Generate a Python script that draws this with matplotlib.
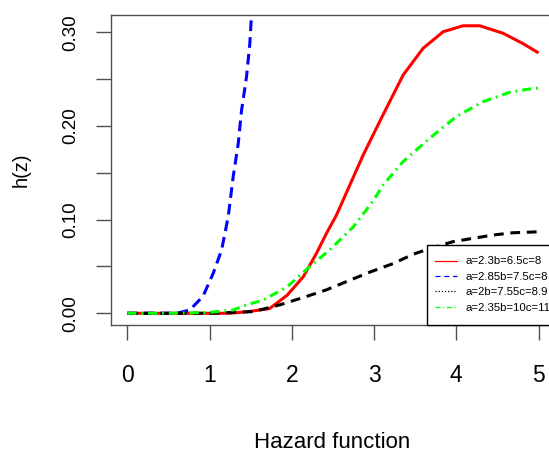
import matplotlib
matplotlib.use("Agg")
import matplotlib.pyplot as plt
from matplotlib.lines import Line2D
from matplotlib.patches import Rectangle

plt.rcParams['font.family'] = ['Liberation Sans', 'DejaVu Sans']

# data
red_x = [0, 0.5, 1.0, 1.25, 1.49, 1.73, 1.94, 2.14, 2.30, 2.42, 2.544, 2.868, 3.11, 3.354, 3.597, 3.84, 4.083, 4.286, 4.569, 4.81, 5.0]
red_y = [0, 0, 0, 0, 0.002, 0.005, 0.019, 0.039, 0.064, 0.085, 0.105, 0.169, 0.212, 0.2544, 0.283, 0.3006, 0.307, 0.307, 0.299, 0.288, 0.278]

blue_x = [0, 0.3, 0.6, 0.76, 0.92, 1.045, 1.147, 1.227, 1.288, 1.349, 1.39, 1.45, 1.49, 1.51, 1.55]
blue_y = [0, 0, 0, 0.0035, 0.018, 0.0427, 0.0676, 0.103, 0.146, 0.181, 0.217, 0.2526, 0.288, 0.318, 0.36]

black_x = [0, 0.5, 1.0, 1.53, 1.855, 2.18, 2.42, 2.67, 2.95, 3.23, 3.475, 3.64, 3.96, 4.20, 4.45, 4.69, 5.0]
black_y = [0, 0, 0, 0.0018, 0.009, 0.018, 0.025, 0.034, 0.044, 0.053, 0.063, 0.068, 0.0765, 0.080, 0.0836, 0.086, 0.087]

green_x = [0, 0.5, 1.0, 1.29, 1.45, 1.65, 1.94, 2.22, 2.46, 2.75, 2.99, 3.11, 3.354, 3.678, 4.0, 4.326, 4.65, 4.893, 5.0]
green_y = [0, 0, 0.001, 0.0035, 0.009, 0.014, 0.028, 0.050, 0.0676, 0.0925, 0.120, 0.137, 0.162, 0.187, 0.210, 0.226, 0.236, 0.2395, 0.2405]

labels = ["a=2.3b=6.5c=8", "a=2.85b=7.5c=8", "a=2b=7.55c=8.9", "a=2.35b=10c=11"]
x_ticks = [0, 1, 2, 3, 4, 5]
y_ticks = [0.00, 0.05, 0.10, 0.15, 0.20, 0.25, 0.30]
y_ticklabels = ["0.00", "", "0.10", "", "0.20", "", "0.30"]

W, H = 549, 454
fig = plt.figure(figsize=(W / 100, H / 100), dpi=100)
ax = fig.add_axes([110.8 / W, 129 / H, (555 - 110.8) / W, (325 - 15) / H])

lw = 2.2
ax.plot(red_x, red_y, color='#FF0000', lw=lw, solid_capstyle='butt')
ax.plot(blue_x, blue_y, color='#0000FF', lw=lw, linestyle=(0, (3.5, 2)))
ax.plot(black_x, black_y, color='black', lw=lw, linestyle=(0, (3.2, 2.2)))
ax.plot(green_x, green_y, color='#00FF00', lw=lw, linestyle=(0, (3.0, 1.6, 0.6, 1.6)))

ax.set_xlim(-0.2, 5.2)
ax.set_ylim(-0.0125, 0.3185)
ax.set_xticks(x_ticks)
ax.set_xticklabels([str(v) for v in x_ticks])
ax.set_yticks(y_ticks)
ax.set_yticklabels(y_ticklabels, rotation=90, va='center')

frame_col = '#505050'
for s in ax.spines.values():
    s.set_color(frame_col)
    s.set_linewidth(1.0)
ax.tick_params(axis='both', colors=frame_col, labelcolor='black',
               length=11, width=1.0)
ax.tick_params(axis='x', pad=17, labelsize=16.5)
ax.tick_params(axis='y', pad=11.5, labelsize=13.5)

fig.text(332 / W, 1 - 448 / H, "Hazard function", ha='center', va='baseline', fontsize=16)
fig.text(21 / W, 1 - 170 / H, "h(z)", ha='center', va='center', fontsize=14.5, rotation=90)

# legend box
fig.add_artist(Rectangle((426.7 / W, 1 - 325 / H), (560 - 426.7) / W, 80 / H,
                         transform=fig.transFigure, facecolor='white',
                         edgecolor='black', linewidth=1.0, zorder=5, clip_on=False))

handles = [
    Line2D([], [], color='#FF0000', lw=0.9),
    Line2D([], [], color='#0000FF', lw=0.9, linestyle=(0, (4, 3))),
    Line2D([], [], color='black', lw=0.9, linestyle=(0, (1, 1.5))),
    Line2D([], [], color='#00FF00', lw=0.9, linestyle=(0, (4, 2, 1, 2))),
]
leg = fig.legend(handles, labels, loc='upper left',
                 bbox_to_anchor=(435 / W, 1 - 256.5 / H), bbox_transform=fig.transFigure,
                 fontsize=8.2, frameon=False, borderaxespad=0, borderpad=0,
                 handlelength=1.95, handletextpad=0.72, labelspacing=0.47)
leg.set_zorder(6)

fig.savefig("out.png", dpi=100)
